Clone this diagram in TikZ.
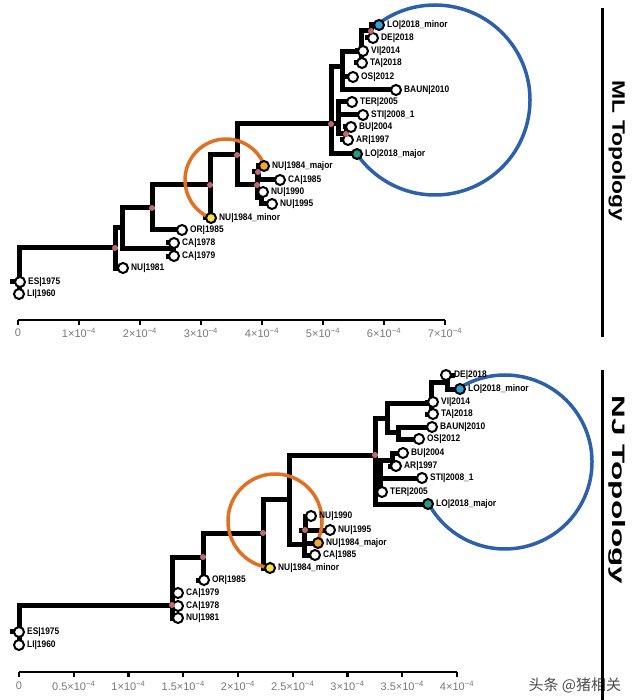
\documentclass[tikz,border=0pt]{standalone}
\usepackage{fontspec}
\usepackage{graphicx}
\setmainfont{Liberation Sans}
\newfontfamily\narrowfont[FakeStretch=0.88]{Liberation Sans}
\newfontfamily\cjkfont{Noto Sans CJK SC}
\usetikzlibrary{backgrounds}

\definecolor{knotpink}{RGB}{190,105,110}
\definecolor{minoryellow}{RGB}{246,226,70}
\definecolor{majororange}{RGB}{242,168,45}
\definecolor{lominblue}{RGB}{45,165,220}
\definecolor{lomajteal}{RGB}{40,150,130}
\definecolor{ringorange}{RGB}{226,112,34}
\definecolor{ringblue}{RGB}{44,96,172}
\definecolor{ticktext}{RGB}{120,120,120}

\newcommand{\tenpow}[1]{#1×10\textsuperscript{−4}}

\begin{document}
\begin{tikzpicture}[
	x = 1pt, y = -1pt, % pixel grid, y grows down
	line join = miter,
	label distance = 1pt % gap between leaf and its name
	]
	
	\tikzstyle{leaf}=[
	circle,
	draw = black,
	line width = 2pt,
	fill = white,
	minimum size = 10pt,
	inner sep = 0pt
	]
	\tikzstyle{knot}=[circle, fill=knotpink, minimum size=6pt, inner sep=0pt]
	\tikzstyle{tag}=[font=\narrowfont\bfseries\fontsize{9.5}{10}\selectfont, inner sep=1pt]
	\tikzstyle{limb}=[line width=5pt, line cap=rect]
	\tikzstyle{ring}=[line width=3.5pt]
	\tikzstyle{axisbar}=[line width=2.2pt]
	\tikzstyle{ticklab}=[font=\fontsize{11}{11}\selectfont, text=ticktext]
	\tikzstyle{heading}=[font=\bfseries\fontsize{18}{18}\selectfont, rotate=-90]
	
	\useasboundingbox (0,0) rectangle (640,700);
	
	% ---------- ML tree ----------
	\node[leaf, label={[tag]right:ES|1975}] (mles) at (20,282) {};
	\node[leaf, label={[tag]right:LI|1960}] (mlli) at (19,294) {};
	\node[leaf, label={[tag]right:NU|1981}] (ml1981) at (123,268) {};
	\node[leaf, label={[tag]right:CA|1978}] (mlca78) at (174,243) {};
	\node[leaf, label={[tag]right:CA|1979}] (mlca79) at (174,256) {};
	\node[leaf, label={[tag]right:OR|1985}] (mlor) at (182,230) {};
	\node[leaf, fill=minoryellow, label={[tag]right:NU|1984\_minor}] (mlmin) at (211,218) {};
	\node[leaf, fill=majororange, label={[tag]right:NU|1984\_major}] (mlmaj) at (264,166) {};
	\node[leaf, label={[tag]right:CA|1985}] (mlca85) at (280,180) {};
	\node[leaf, label={[tag]right:NU|1990}] (ml1990) at (263,192) {};
	\node[leaf, label={[tag]right:NU|1995}] (ml1995) at (272,204) {};
	\node[leaf, fill=lominblue, label={[tag]right:LO|2018\_minor}] (mllomin) at (379,25) {};
	\node[leaf, label={[tag]right:DE|2018}] (mlde) at (373,38) {};
	\node[leaf, label={[tag]right:VI|2014}] (mlvi) at (363,51) {};
	\node[leaf, label={[tag]right:TA|2018}] (mlta) at (362,63) {};
	\node[leaf, label={[tag]right:OS|2012}] (mlos) at (353,77) {};
	\node[leaf, label={[tag]right:BAUN|2010}] (mlbaun) at (396,90) {};
	\node[leaf, label={[tag]right:TER|2005}] (mlter) at (352,102) {};
	\node[leaf, label={[tag]right:STI|2008\_1}] (mlsti) at (363,115) {};
	\node[leaf, label={[tag]right:BU|2004}] (mlbu) at (351,127) {};
	\node[leaf, label={[tag]right:AR|1997}] (mlar) at (348,140) {};
	\node[leaf, fill=lomajteal, label={[tag]right:LO|2018\_major}] (mllomaj) at (357,154) {};
	
	\coordinate (mlstub) at (12,281);
	\coordinate (mlr) at (19,281);
	\node[knot] (ml2) at (115,248) {};
	\coordinate (ml3) at (122,228);
	\coordinate (mlca) at (173,249);
	\node[knot] (ml4) at (152,208) {};
	\node[knot] (ml5) at (210,185) {};
	\node[knot] (ml6) at (237,155) {};
	\node[knot] (ml7) at (257,185) {};
	\node[knot] (ml7a) at (258,172) {};
	\coordinate (ml7b) at (261,198);
	\node[knot] (ml8) at (331,124) {};
	\coordinate (ml9) at (342,67);
	\coordinate (ml10) at (338,124);
	\coordinate (ml11) at (361,52);
	\node[knot] (ml12) at (371,31) {};
	\node[knot] (ml13) at (346,134) {};
	
	% ---------- NJ tree ----------
	\node[leaf, label={[tag]right:ES|1975}] (njes) at (19,632) {};
	\node[leaf, label={[tag]right:LI|1960}] (njli) at (19,645) {};
	\node[leaf, label={[tag]right:CA|1979}] (njca79) at (178,593) {};
	\node[leaf, label={[tag]right:CA|1978}] (njca78) at (178,606) {};
	\node[leaf, label={[tag]right:NU|1981}] (nj1981) at (178,618) {};
	\node[leaf, label={[tag]right:OR|1985}] (njor) at (204,580) {};
	\node[leaf, fill=minoryellow, label={[tag]right:NU|1984\_minor}] (njmin) at (270,568) {};
	\node[leaf, label={[tag]right:NU|1990}] (nj1990) at (311,516) {};
	\node[leaf, label={[tag]right:NU|1995}] (nj1995) at (330,530) {};
	\node[leaf, fill=majororange, label={[tag]right:NU|1984\_major}] (njmaj) at (318,543) {};
	\node[leaf, label={[tag]right:CA|1985}] (njca85) at (315,555) {};
	\node[leaf, label={[tag]right:DE|2018}] (njde) at (446,375) {};
	\node[leaf, fill=lominblue, label={[tag]right:LO|2018\_minor}] (njlomin) at (460,389) {};
	\node[leaf, label={[tag]right:VI|2014}] (njvi) at (433,402) {};
	\node[leaf, label={[tag]right:TA|2018}] (njta) at (433,414) {};
	\node[leaf, label={[tag]right:BAUN|2010}] (njbaun) at (432,427) {};
	\node[leaf, label={[tag]right:OS|2012}] (njos) at (419,439) {};
	\node[leaf, label={[tag]right:BU|2004}] (njbu) at (403,453) {};
	\node[leaf, label={[tag]right:AR|1997}] (njar) at (396,466) {};
	\node[leaf, label={[tag]right:STI|2008\_1}] (njsti) at (422,478) {};
	\node[leaf, label={[tag]right:TER|2005}] (njter) at (382,492) {};
	\node[leaf, fill=lomajteal, label={[tag]right:LO|2018\_major}] (njlomaj) at (428,504) {};
	
	\coordinate (njstub) at (12,631);
	\coordinate (njr) at (19,631);
	\node[knot] (nj2) at (172,605) {};
	\node[knot] (nj3) at (203,557) {};
	\node[knot] (nj4) at (263,533) {};
	\coordinate (nj5) at (289,499);
	\coordinate (nj7) at (304,544);
	\node[knot] (nj8) at (305,530) {};
	\node[knot] (nj6) at (375,455) {};
	\coordinate (nj9) at (387,418);
	\coordinate (nj11) at (431,403);
	\coordinate (nj13) at (447,382);
	\coordinate (nj12) at (398,432);
	\coordinate (nj10) at (380,470);
	\coordinate (nj14) at (392,460);
	
	\begin{scope}[on background layer]
		% ML branches
		\draw[limb] (mlstub) -- (mlr);
		\draw[limb] (mlr) |- (ml2);
		\draw[limb] (mlr) -- (mlli);
		\draw[limb] (ml2) |- (ml3);
		\draw[limb] (ml2) |- (ml1981);
		\draw[limb] (ml3) |- (ml4);
		\draw[limb] (ml3) |- (mlca);
		\draw[limb] (mlca) |- (mlca78);
		\draw[limb] (mlca) |- (mlca79);
		\draw[limb] (ml4) |- (ml5);
		\draw[limb] (ml4) |- (mlor);
		\draw[limb] (ml5) |- (ml6);
		\draw[limb] (ml5) |- (mlmin);
		\draw[limb] (ml6) |- (ml8);
		\draw[limb] (ml6) |- (ml7);
		\draw[limb] (ml7) |- (ml7a);
		\draw[limb] (ml7) |- (ml7b);
		\draw[limb] (ml7a) |- (mlmaj);
		\draw[limb] (ml7a) |- (mlca85);
		\draw[limb] (ml7b) |- (ml1990);
		\draw[limb] (ml7b) |- (ml1995);
		\draw[limb] (ml8) |- (ml9);
		\draw[limb] (ml8) -- (ml10);
		\draw[limb] (ml8) |- (mllomaj);
		\draw[limb] (ml9) |- (ml11);
		\draw[limb] (ml9) |- (mlos);
		\draw[limb] (ml9) |- (mlbaun);
		\draw[limb] (ml11) |- (ml12);
		\draw[limb] (ml11) |- (mlvi);
		\draw[limb] (ml11) |- (mlta);
		\draw[limb] (ml12) |- (mllomin);
		\draw[limb] (ml12) |- (mlde);
		\draw[limb] (ml10) |- (mlter);
		\draw[limb] (ml10) |- (mlsti);
		\draw[limb] (ml10) |- (ml13);
		\draw[limb] (ml13) |- (mlbu);
		\draw[limb] (ml13) |- (mlar);
		
		% NJ branches
		\draw[limb] (njstub) -- (njr);
		\draw[limb] (njr) |- (nj2);
		\draw[limb] (njr) -- (njli);
		\draw[limb] (nj2) |- (nj3);
		\draw[limb] (nj2) |- (njca79);
		\draw[limb] (nj2) |- (njca78);
		\draw[limb] (nj2) |- (nj1981);
		\draw[limb] (nj3) |- (nj4);
		\draw[limb] (nj3) |- (njor);
		\draw[limb] (nj4) |- (nj5);
		\draw[limb] (nj4) |- (njmin);
		\draw[limb] (nj5) |- (nj6);
		\draw[limb] (nj5) |- (nj7);
		\draw[limb] (nj7) |- (nj8);
		\draw[limb] (nj7) |- (njmaj);
		\draw[limb] (nj7) |- (njca85);
		\draw[limb] (nj8) |- (nj1990);
		\draw[limb] (nj8) -- (nj1995);
		\draw[limb] (nj6) |- (nj9);
		\draw[limb] (nj6) |- (nj10);
		\draw[limb] (nj6) |- (njlomaj);
		\draw[limb] (nj9) |- (nj11);
		\draw[limb] (nj9) |- (nj12);
		\draw[limb] (nj11) |- (nj13);
		\draw[limb] (nj11) |- (njvi);
		\draw[limb] (nj11) |- (njta);
		\draw[limb] (nj13) |- (njde);
		\draw[limb] (nj13) |- (njlomin);
		\draw[limb] (nj12) |- (njbaun);
		\draw[limb] (nj12) |- (njos);
		\draw[limb] (nj10) |- (nj14);
		\draw[limb] (nj10) |- (njsti);
		\draw[limb] (nj10) |- (njter);
		\draw[limb] (nj14) |- (njbu);
		\draw[limb] (nj14) |- (njar);
		
		% rings round the split samples
		\draw[ring, ringorange] (226,180) ++(111.5:41) arc[start angle=111.5, end angle=340, radius=41];
		\draw[ring, ringblue] (435,100) ++(233.3:95) arc[start angle=233.3, end angle=505.3, radius=95];
		\draw[ring, ringorange] (275,521) ++(96:47) arc[start angle=96, end angle=387, radius=47];
		\draw[ring, ringblue] (505,462) ++(238.4:87) arc[start angle=238.4, end angle=511.4, radius=87];
	\end{scope}
	
	% scale bars
	\draw[axisbar] (18,320) -- (445,320);
	\foreach \i in {0,...,7}
	\draw[axisbar] (18+61*\i,320) -- (18+61*\i,324.5);
	\node[ticklab] (mlt0) at (18,333) {0};
	\foreach \i in {1,...,7}
	\node[ticklab] (mlt\i) at (18+61*\i,333) {\tenpow{\i}};
	
	\draw[axisbar] (19,672) -- (457,672);
	\foreach \i in {0,...,8}
	\draw[axisbar] (19+54.75*\i,672) -- (19+54.75*\i,676.5);
	\node[ticklab] (njt0) at (19,686) {0};
	\foreach \v [count=\i] in {0.5,1,1.5,2,2.5,3,3.5,4}
	\node[ticklab] (njt\i) at (19+109.5*\v,686) {\tenpow{\v}};
	
	% side titles
	\node[heading] (mltitle) at (617,151) {\scalebox{1.27}[1]{ML Topology}};
	\node[heading] (njtitle) at (617,490) {\scalebox{1.75}[1]{NJ Topology}};
	\node[anchor=west, text=black!70, font=\cjkfont\fontsize{15}{15}\selectfont] (mark) at (525,685) {头条 @猪相关};
	\draw[line width=3pt] (602,8) -- (602,337);
	\draw[line width=3pt] (602,370) -- (602,700);
	
\end{tikzpicture}
\end{document}
